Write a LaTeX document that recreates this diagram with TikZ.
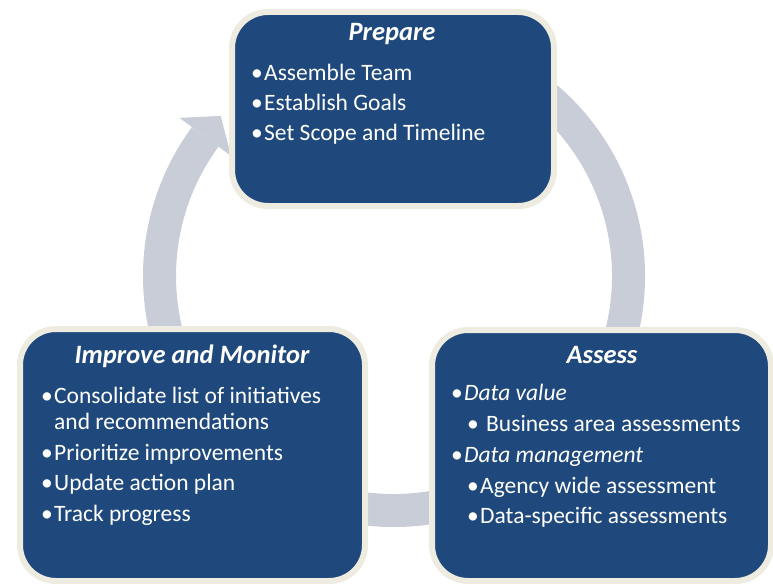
\documentclass[tikz,border=0pt]{standalone}
\usepackage{fontspec}
\setmainfont{Carlito}
\usetikzlibrary{calc,shadows}
\definecolor{stageblue}{RGB}{31,73,125}
\definecolor{stagerim}{RGB}{238,236,225}
\definecolor{ringgray}{RGB}{201,205,216}
\newcommand{\bul}{\makebox[13pt][l]{\textbullet}}

\begin{document}
\begin{tikzpicture}[x=1pt, y=-1pt,
    stage/.style={draw=stagerim, line width=6pt, fill=stageblue, rounded corners=36pt,
      drop shadow={shadow xshift=1.5pt, shadow yshift=-2.5pt, opacity=0.3}},
    stagetitle/.style={text=white, font=\fontsize{26.5}{30}\selectfont\bfseries\itshape,
      anchor=base, inner sep=0pt},
    stagelist/.style={text=white, font=\fontsize{23.5}{26}\selectfont, align=left,
      anchor=base west, inner sep=0pt}]
  \useasboundingbox (0,0) rectangle (773,586);
  % Cycle ring behind the stages
  \coordinate (hub) at (394,276);
  \draw[ringgray, line width=33pt] ($(hub)+(-60:234.5)$) arc[start angle=-60, end angle=216.4, radius=234.5];
  \fill[ringgray] ($(hub)+(216.4:266.5)$) -- ($(hub)+(216.4:234.5)+(-53.6:26)$) -- ($(hub)+(216.4:202.5)$) -- cycle;
  % Stage boxes
  \node[stage, minimum width=322pt, minimum height=194pt] (prepare) at (393,109) {};
  \node[stage, minimum width=345pt, minimum height=252pt] (improve) at (192.5,455) {};
  \node[stage, minimum width=339pt, minimum height=251pt] (assess) at (601.5,455.5) {};
  % Prepare (lists are placed by their last baseline)
  \node[stagetitle] (prepare-title) at (392,41) {Prepare};
  \node[stagelist] (prepare-list) at (251,140) {\bul Assemble Team\\[4pt]
    \bul Establish Goals\\[4pt]
    \bul Set Scope and Timeline};
  % Improve and Monitor
  \node[stagetitle] (improve-title) at (192,363) {Improve and Monitor};
  \node[stagelist] (improve-list) at (41,521) {\bul Consolidate list of initiatives\\
    \hspace*{13pt}and recommendations\\[5pt]
    \bul Prioritize improvements\\[4pt]
    \bul Update action plan\\[5pt]
    \bul Track progress};
  % Assess
  \node[stagetitle] (assess-title) at (602,363) {Assess};
  \node[stagelist] (assess-list) at (451,523) {\bul\textit{Data value}\\[5pt]
    \hspace*{16pt}\bul\hspace{6pt}Business area assessments\\[5pt]
    \bul\textit{Data management}\\[5pt]
    \hspace*{16pt}\bul Agency wide assessment\\[4pt]
    \hspace*{16pt}\bul Data-specific assessments};
\end{tikzpicture}
\end{document}
